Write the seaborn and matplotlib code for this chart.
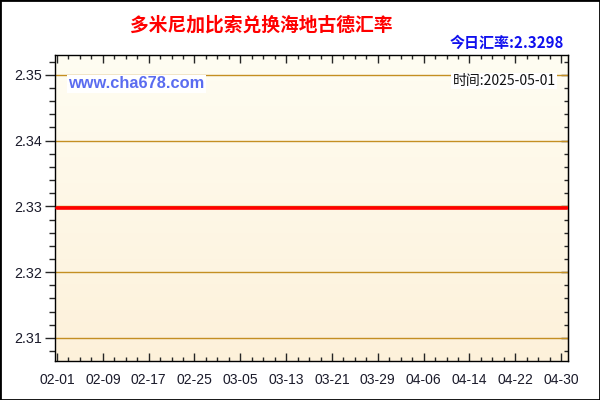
import numpy as np
import pandas as pd
import matplotlib
matplotlib.use('Agg')
import matplotlib.pyplot as plt
import matplotlib.dates as mdates
from matplotlib.ticker import MultipleLocator
from matplotlib.patches import Rectangle
import seaborn as sns

# data
dates = ['2025-02-01', '2025-05-01']
rates = [2.3298, 2.3298]
today_rate = '2.3298'
title = '多米尼加比索兑换海地古德汇率'
stamp = '时间:2025-05-01'
site = 'www.cha678.com'
y_ticks = [2.31, 2.32, 2.33, 2.34, 2.35]

df = pd.DataFrame({'date': pd.to_datetime(dates), 'rate': rates})

sns.set_style('white')
plt.rcParams['font.family'] = ['Liberation Sans', 'Noto Sans CJK SC', 'DejaVu Sans']

fig = plt.figure(figsize=(6, 4), dpi=100)
ax = fig.add_axes([55 / 600, 1 - 361 / 400, 513 / 600, 306 / 400])

# gradient background
grad = np.linspace(0, 1, 256).reshape(-1, 1)
top = np.array([255, 253, 242]) / 255
bot = np.array([253, 241, 218]) / 255
img = top + (bot - top) * grad[:, :, None]
x0 = mdates.date2num(df['date'].min()) - 0.35
x1 = mdates.date2num(df['date'].max()) + 0.2
ax.imshow(img, extent=[x0, x1, 2.3065, 2.353], aspect='auto', zorder=0)

for yv in y_ticks:
    ax.axhline(yv, color='#c48f22', lw=1, zorder=1)

sns.lineplot(data=df, x='date', y='rate', color='#ff0000', lw=2.6, ax=ax, zorder=3)

ax.set_xlim(x0, x1)
ax.set_ylim(2.3065, 2.353)
ax.set_xlabel('')
ax.set_ylabel('')

ax.xaxis.set_major_locator(MultipleLocator(8))
ax.xaxis.set_minor_locator(MultipleLocator(2))
ax.xaxis.set_major_formatter(mdates.DateFormatter('%m-%d'))
ax.set_yticks(y_ticks)
ax.yaxis.set_minor_locator(MultipleLocator(0.002))
ax.yaxis.set_major_formatter(matplotlib.ticker.FormatStrFormatter('%.2f'))

ax.tick_params(axis='x', which='major', direction='in', length=6, width=1,
               top=True, bottom=True, labelsize=10, labelcolor='#1a1a2a', pad=9)
ax.tick_params(axis='x', which='minor', direction='in', length=3, width=1,
               top=True, bottom=True)
ax.tick_params(axis='y', which='major', direction='out', length=7, width=1,
               left=True, right=False, labelsize=10.3, labelcolor='#1a1a2a', pad=2)
ax.tick_params(axis='y', which='minor', direction='out', length=4, width=1,
               left=True, right=False)

# right side ticks point inward
sec = ax.secondary_yaxis('right')
sec.set_yticks(y_ticks)
sec.yaxis.set_minor_locator(MultipleLocator(0.002))
sec.tick_params(which='major', direction='in', length=5, width=1, labelright=False)
sec.tick_params(which='minor', direction='in', length=3, width=1)
sec.spines['right'].set_color('black')

for s in ax.spines.values():
    s.set_color('black')
    s.set_linewidth(1)

fig.text(261 / 600, 1 - 25 / 400, title, ha='center', va='center', color='#ff0000',
         fontsize=13.5, fontweight='bold', family=['Noto Sans CJK SC'])
fig.text(564 / 600, 1 - 43 / 400, '今日汇率:' + today_rate, ha='right', va='center',
         color='#1010ee', fontsize=10.8, fontweight='bold',
         family=['Noto Sans CJK SC', 'DejaVu Sans'])
fig.text(68 / 600, 1 - 84 / 400, site, ha='left', va='center', color='#5a6cf0',
         fontsize=11.8, fontweight='bold', family=['Liberation Sans'],
         bbox=dict(facecolor='white', edgecolor='none', pad=1))
fig.text(556 / 600, 1 - 81 / 400, stamp, ha='right', va='center', color='#111111',
         fontsize=10, family=['Noto Sans CJK SC', 'DejaVu Sans'],
         bbox=dict(facecolor='white', edgecolor='none', pad=1))

fig.patches.append(Rectangle((0, 0), 1, 1, transform=fig.transFigure, fill=False,
                             edgecolor='black', linewidth=2))

fig.savefig('out.png', dpi=100)
